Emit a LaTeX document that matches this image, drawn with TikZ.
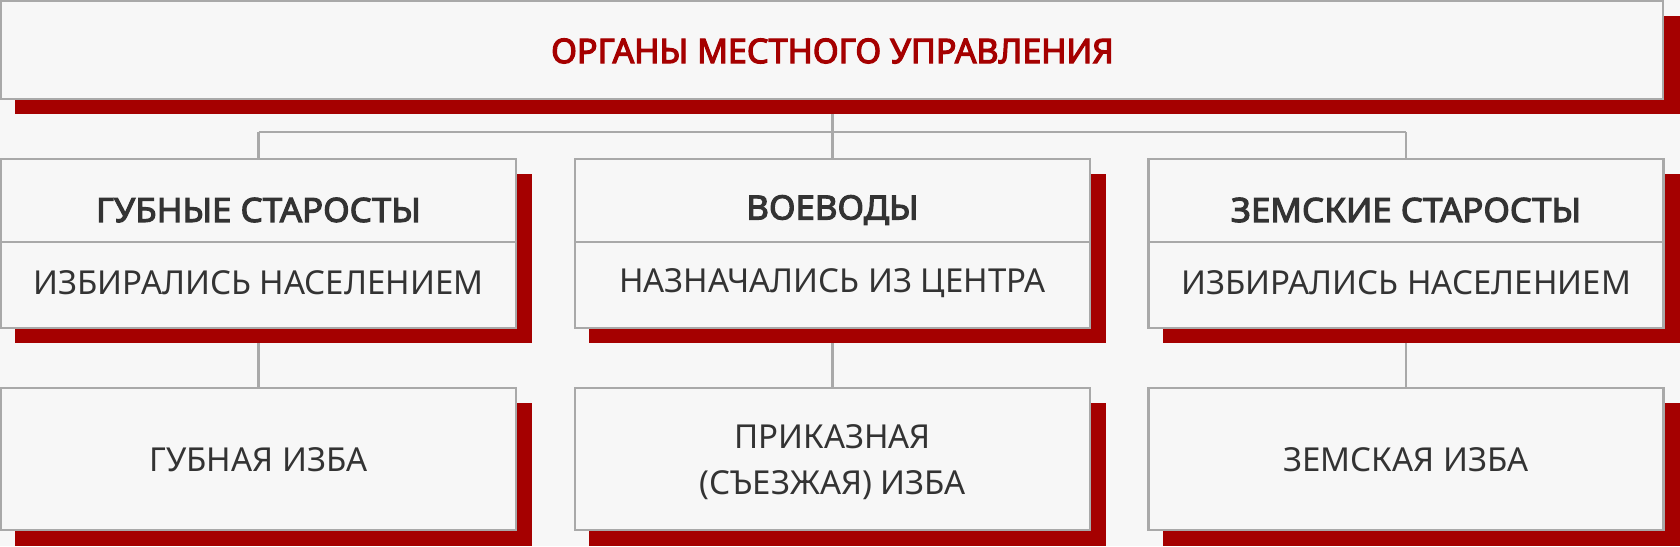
\documentclass[tikz,border=0pt]{standalone}
\usepackage{fontspec}
\setmainfont{Noto Sans}
\newfontfamily\headf{Noto Sans}[FakeBold=3.2, FakeStretch=1.04]
\newfontfamily\titlef{Noto Sans}[FakeBold=3.4]
\definecolor{bg}{HTML}{F7F7F7}
\definecolor{edge}{HTML}{A9A9A9}
\definecolor{darkred}{HTML}{A50000}
\definecolor{ink}{HTML}{333333}
\tikzset{
  boxfr/.style={draw=edge, line width=2.5pt, fill=bg, inner sep=0pt, outer sep=0pt, minimum width=515pt},
  shad/.style={fill=darkred},
  link/.style={draw=edge, line width=2.5pt},
  titletext/.style={font=\titlef\fontsize{34}{40}\selectfont, text=darkred},
  headtext/.style={font=\headf\fontsize{33.5}{40}\selectfont, text=ink},
  bodytext/.style={font=\fontsize{33}{46}\selectfont, text=ink, align=center}
}
\begin{document}
\begin{tikzpicture}[x=1pt,y=-1pt]
\useasboundingbox (0,0) rectangle (1680,546);
\fill[bg] (0,0) rectangle (1680,546);
% connectors
\coordinate (tb) at (832.5,114);
\coordinate (hub) at (832.5,132);
\coordinate (hl) at (258.5,132);
\coordinate (hr) at (1406,132);
\draw[link] (tb) -- (hub);
\draw[link] (hl) -- (hr);
% shadows
\fill[shad] (15,16) rectangle (1680,114);
\foreach \x in {1,575,1149}{
  \fill[shad] (\x+14,174) rectangle (\x+531,343);
  \fill[shad] (\x+14,403) rectangle (\x+531,546);
}
% top box
\node[boxfr, minimum width=1662pt, minimum height=98pt] (top) at (832,50) {};
\node[titletext] (title) at (832.5,51) {ОРГАНЫ МЕСТНОГО УПРАВЛЕНИЯ};
% row 2 boxes
\node[boxfr, minimum height=169pt] (b1) at (258.5,243.5) {};
\node[boxfr, minimum height=169pt] (b2) at (832.5,243.5) {};
\node[boxfr, minimum height=169pt] (b3) at (1406,243.5) {};
\draw[link] (b1.west |- 0,242) -- (b1.east |- 0,242);
\draw[link] (b2.west |- 0,242) -- (b2.east |- 0,242);
\draw[link] (b3.west |- 0,242) -- (b3.east |- 0,242);
\draw[link] (hl) -- (b1.north);
\draw[link] (hub) -- (b2.north);
\draw[link] (hr) -- (b3.north);
\node[headtext] (h1) at (258.5,210) {ГУБНЫЕ СТАРОСТЫ};
\node[headtext] (h2) at (832.5,210) {ВОЕВОДЫ};
\node[headtext] (h3) at (1406,210) {ЗЕМСКИЕ СТАРОСТЫ};
\node[bodytext] (s1) at (258.5,283) {ИЗБИРАЛИСЬ НАСЕЛЕНИЕМ};
\node[bodytext] (s2) at (832.5,283) {НАЗНАЧАЛИСЬ ИЗ ЦЕНТРА};
\node[bodytext] (s3) at (1406,283) {ИЗБИРАЛИСЬ НАСЕЛЕНИЕМ};
% row 3
\coordinate (d1) at (258.5,343);
\coordinate (d2) at (832.5,343);
\coordinate (d3) at (1406,343);
\node[boxfr, minimum height=142pt] (c1) at (258.5,459) {};
\node[boxfr, minimum height=142pt] (c2) at (832.5,459) {};
\node[boxfr, minimum height=142pt] (c3) at (1406,459) {};
\draw[link] (d1) -- (c1.north);
\draw[link] (d2) -- (c2.north);
\draw[link] (d3) -- (c3.north);
\node[bodytext] (t1) at (258.5,460) {ГУБНАЯ ИЗБА};
\node[bodytext] (t2) at (832.5,462) {ПРИКАЗНАЯ\\(СЪЕЗЖАЯ) ИЗБА};
\node[bodytext] (t3) at (1406,460) {ЗЕМСКАЯ ИЗБА};
\end{tikzpicture}
\end{document}
